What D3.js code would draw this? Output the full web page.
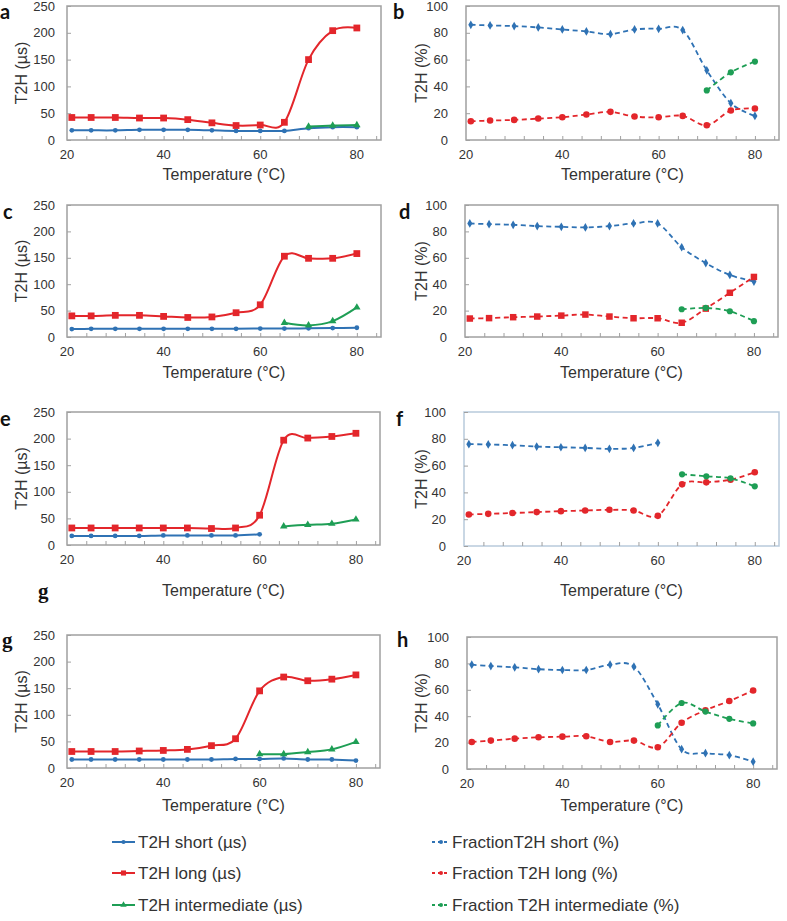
<!DOCTYPE html>
<html>
<head>
<meta charset="utf-8">
<script src="https://cdn.jsdelivr.net/npm/d3@7/dist/d3.min.js"></script>
<style>
  body { margin: 0; background: #fff; }
  svg { display: block; font-family: "Liberation Sans", Arial, sans-serif; }
</style>
</head>
<body>
<div id="viz"></div>
<script>
// temperatures (°C) shared by every panel
var temps = [21, 25, 30, 35, 40, 45, 50, 55, 60, 65, 70, 75, 80];
var xTicks = [20, 40, 60, 80];
var yTicksUs = [0, 50, 100, 150, 200, 250];
var yTicksPct = [0, 20, 40, 60, 80, 100];

var n = null;
// T2H (µs)
var aShort = [18, 18, 18, 19, 19, 19, 18, 17, 17, 17, 22, 24, 24];
var aLong  = [42, 42, 42, 41, 41, 38, 32, 27, 28, 33, 150, 204, 209];
var aInter = [n, n, n, n, n, n, n, n, n, n, 25, 27, 28];
var cShort = [15, 15.5, 15.5, 15.5, 15.5, 15.5, 15.5, 15.5, 16, 16, 16.5, 17, 17.5];
var cLong  = [40, 40, 41, 41, 39, 37, 38, 46, 61, 153, 149, 149, 158];
var cInter = [n, n, n, n, n, n, n, n, n, 27, 22, 30, 56];
var eShort = [17, 17, 17, 17, 18, 18, 18, 18, 20, n, n, n, n];
var eLong  = [32, 32, 32, 32, 32, 32, 31, 32, 56, 197, 201, 204, 210];
var eInter = [n, n, n, n, n, n, n, n, n, 35, 38, 40, 48];
var gShort = [16, 16, 16, 16, 16, 16, 16, 17, 17, 18, 16, 16, 14];
var gLong  = [31, 31, 31, 32, 33, 35, 42, 55, 145, 171, 164, 167, 175];
var gInter = [n, n, n, n, n, n, n, n, 26, 26, 30, 35, 49];
// fractions (%)
var bShort = [86, 85.5, 85, 84, 82.5, 81, 79, 82.5, 83, 82, 52, 27.5, 18];
var bLong  = [14, 14.5, 15, 16, 17, 19, 21, 17.5, 17, 18, 11, 22, 23.5];
var bInter = [n, n, n, n, n, n, n, n, n, n, 37, 50.5, 58.5];
var dShort = [86, 85.5, 85, 84, 83.5, 83, 84, 86, 86, 68, 56, 47, 42];
var dLong  = [14, 14.3, 15, 15.5, 16.2, 17, 15.5, 14.2, 14.2, 10.8, 21.5, 33.5, 45.5];
var dInter = [n, n, n, n, n, n, n, n, n, 21, 22, 19.5, 12];
var fShort = [76, 75.8, 75.2, 74.2, 73.7, 73.2, 72.5, 73.2, 77, n, n, n, n];
var fLong  = [23.5, 24, 24.6, 25.3, 26, 26.5, 27, 26.5, 22.5, 46, 47.5, 49.5, 55];
var fInter = [n, n, n, n, n, n, n, n, n, 53.5, 52, 50.5, 44.5];
var hShort = [79, 78, 77, 75.6, 75, 75, 79, 77.5, 49, 15, 12, 10.5, 5.5];
var hLong  = [20.5, 21.5, 23, 24, 24.5, 24.8, 20.5, 21.5, 16.5, 35, 44.5, 51.5, 59.5];
var hInter = [n, n, n, n, n, n, n, n, 33, 50, 43.5, 38, 34.5];

var legendUs = ["T2H short (µs)", "T2H long (µs)", "T2H intermediate (µs)"];
var legendPct = ["FractionT2H short (%)", "Fraction T2H long (%)", "Fraction T2H intermediate (%)"];

var width = 787, height = 921;
var blue = "#2f72b4", red = "#e3262b", green = "#1e9e55";
var colors = [blue, red, green];

var svg = d3.select("#viz").append("svg")
    .attr("width", width)
    .attr("height", height);

// left column: T2H in µs, right column: fractions
var panels = [
    {id: "a", pct: false, x0: 67, x1: 381, y0: 6, y1: 140, titleY: 180, series: [aShort, aLong, aInter]},
    {id: "b", pct: true, x0: 466, x1: 779, y0: 6, y1: 140, titleY: 180, series: [bShort, bLong, bInter]},
    {id: "c", pct: false, x0: 67, x1: 381, y0: 205, y1: 337, titleY: 378, series: [cShort, cLong, cInter]},
    {id: "d", pct: true, x0: 465, x1: 778, y0: 205, y1: 337, titleY: 378, series: [dShort, dLong, dInter], squares: true},
    {id: "e", pct: false, x0: 67, x1: 380, y0: 412, y1: 545, titleY: 596, series: [eShort, eLong, eInter]},
    {id: "f", pct: true, x0: 464, x1: 779, y0: 412, y1: 546, titleY: 596, series: [fShort, fLong, fInter], frame: "#b8cadb"},
    {id: "g", pct: false, x0: 67, x1: 380, y0: 635, y1: 768, titleY: 811, series: [gShort, gLong, gInter]},
    {id: "h", pct: true, x0: 467, x1: 777, y0: 637, y1: 769, titleY: 811, series: [hShort, hLong, hInter]}
];

var labelPos = {
    a: [0, 19], b: [393, 19], c: [3, 219], d: [399, 219],
    e: [0, 426], f: [396, 426], h: [397, 647]
};

panels.forEach(function(p) {
    var x = d3.scaleLinear().domain([20, 85]).range([p.x0, p.x1]);
    var y = d3.scaleLinear().domain([0, p.pct ? 100 : 250]).range([p.y1, p.y0]);
    var g = svg.append("g").attr("class", "panel-" + p.id);

    // frame
    g.append("rect")
        .attr("x", p.x0).attr("y", p.y0)
        .attr("width", p.x1 - p.x0).attr("height", p.y1 - p.y0)
        .attr("fill", "none")
        .attr("stroke", p.frame || "#a0a0a0")
        .attr("stroke-width", 1.5);

    // inside ticks
    var yAxis = d3.axisRight(y).tickValues(p.pct ? yTicksPct : yTicksUs).tickSize(4).tickFormat("");
    g.append("g").attr("transform", "translate(" + p.x0 + ",0)").call(yAxis)
        .call(function(s) { s.select(".domain").remove(); s.selectAll("line").attr("stroke", "#a0a0a0"); });
    var xAxis = d3.axisTop(x).tickValues(d3.range(24, 85, 4)).tickSize(4).tickFormat("");
    g.append("g").attr("transform", "translate(0," + p.y1 + ")").call(xAxis)
        .call(function(s) { s.select(".domain").remove(); s.selectAll("line").attr("stroke", "#a0a0a0"); });

    // tick labels
    g.selectAll(".ylab").data(p.pct ? yTicksPct : yTicksUs).enter().append("text")
        .attr("x", p.x0 - (p.pct ? 18 : 12))
        .attr("y", function(d) { return y(d) + 4.5; })
        .attr("text-anchor", "end")
        .attr("font-size", 13).attr("fill", "#333")
        .text(function(d) { return d; });
    g.selectAll(".xlab").data(xTicks).enter().append("text")
        .attr("x", function(d) { return x(d); })
        .attr("y", p.y1 + 19)
        .attr("text-anchor", "middle")
        .attr("font-size", 13).attr("fill", "#333")
        .text(function(d) { return d; });

    // axis titles
    g.append("text")
        .attr("x", (p.x0 + p.x1) / 2)
        .attr("y", p.titleY)
        .attr("text-anchor", "middle")
        .attr("font-size", 16).attr("fill", "#333")
        .text("Temperature (°C)");
    var ty = (p.y0 + p.y1) / 2, tx = p.pct ? 427 : 27;
    g.append("text")
        .attr("x", tx).attr("y", ty)
        .attr("transform", "rotate(-90," + tx + "," + ty + ")")
        .attr("text-anchor", "middle")
        .attr("font-size", 16).attr("fill", "#333")
        .text(p.pct ? "T2H (%)" : "T2H (µs)");

    // lines
    var line = d3.line()
        .defined(function(d) { return d.v !== null; })
        .x(function(d) { return x(d.t); })
        .y(function(d) { return y(d.v); })
        .curve(d3.curveCatmullRom.alpha(0));

    p.series.forEach(function(vals, i) {
        var pts = temps.map(function(t, k) { return {t: t, v: vals[k]}; });
        g.append("path")
            .datum(pts)
            .attr("fill", "none")
            .attr("stroke", colors[i])
            .attr("stroke-width", p.pct ? 1.8 : 2)
            .attr("stroke-dasharray", p.pct ? "5,3.5" : null)
            .attr("d", line);

        var shape;
        if (p.pct) {
            shape = i === 1 && p.squares ? d3.symbolSquare : (i === 0 ? d3.symbolDiamond : d3.symbolCircle);
        } else {
            shape = [d3.symbolCircle, d3.symbolSquare, d3.symbolTriangle][i];
        }
        var size = p.pct ? [22, p.squares ? 42 : 34, 30][i] : [18, 46, 24][i];
        g.selectAll(".m" + i)
            .data(pts.filter(function(d) { return d.v !== null; }))
            .enter().append("path")
            .attr("transform", function(d) { return "translate(" + x(d.t) + "," + y(d.v) + ")"; })
            .attr("d", d3.symbol().type(shape).size(size))
            .attr("fill", colors[i]);
    });

    // panel letter
    if (labelPos[p.id]) {
        svg.append("text")
            .attr("x", labelPos[p.id][0]).attr("y", labelPos[p.id][1])
            .attr("font-family", "Lato, 'Open Sans', sans-serif")
            .attr("font-weight", "bold")
            .attr("font-size", 20).attr("fill", "#111")
            .text(p.id);
    }
});

// the two serif "g" letters
[[38, 598], [2, 647]].forEach(function(pos) {
    svg.append("text")
        .attr("x", pos[0]).attr("y", pos[1])
        .attr("font-family", "'Liberation Serif', 'DejaVu Serif', serif")
        .attr("font-weight", "bold")
        .attr("font-size", 21).attr("fill", "#111")
        .text("g");
});

// legend
var rows = [842, 873, 905];
legendUs.forEach(function(name, i) {
    var lg = svg.append("g");
    lg.append("line").attr("x1", 112).attr("x2", 135).attr("y1", rows[i]).attr("y2", rows[i])
        .attr("stroke", colors[i]).attr("stroke-width", 2);
    lg.append("path")
        .attr("transform", "translate(123.5," + rows[i] + ")")
        .attr("d", d3.symbol().type([d3.symbolCircle, d3.symbolSquare, d3.symbolTriangle][i]).size([14, 26, 18][i]))
        .attr("fill", colors[i]);
    lg.append("text").attr("x", 138).attr("y", rows[i] + 6)
        .attr("font-size", 17).attr("fill", "#333").text(name);
});
legendPct.forEach(function(name, i) {
    var lg = svg.append("g");
    lg.append("line").attr("x1", 432).attr("x2", 450).attr("y1", rows[i]).attr("y2", rows[i])
        .attr("stroke", colors[i]).attr("stroke-width", 1.8).attr("stroke-dasharray", "3,3");
    lg.append("circle").attr("cx", 441).attr("cy", rows[i]).attr("r", 2)
        .attr("fill", colors[i]);
    lg.append("text").attr("x", 452).attr("y", rows[i] + 6)
        .attr("font-size", 17).attr("fill", "#333").text(name);
});
</script>
</body>
</html>
